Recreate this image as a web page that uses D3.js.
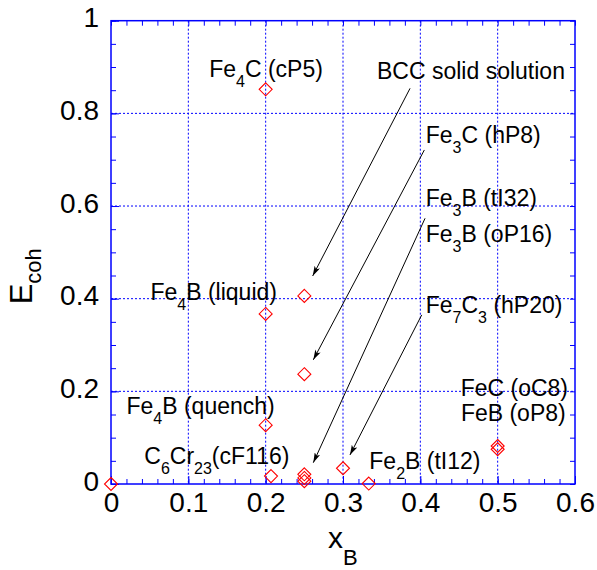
<!DOCTYPE html>
<html>
<head>
<meta charset="utf-8">
<script src="https://cdn.jsdelivr.net/npm/d3@7"></script>
<style>
  html, body { margin: 0; padding: 0; background: #fff; }
  svg { display: block; font-family: "Liberation Sans", Arial, Helvetica, sans-serif; }
</style>
</head>
<body>
<div id="chart"></div>
<script>
// ---- data ----
const xB   = [0, 0.2, 0.2, 0.2, 0.25, 0.25, 0.2069, 0.25, 0.25, 0.25, 0.3, 0.3333, 0.5, 0.5];
const Ecoh = [0, 0.852, 0.367, 0.127, 0.406, 0.237, 0.017, 0.021, 0.013, 0.006, 0.034, 0.001, 0.082, 0.075];

const xTicks = [0, 0.1, 0.2, 0.3, 0.4, 0.5, 0.6];
const xTickLabels = ["0", "0.1", "0.2", "0.3", "0.4", "0.5", "0.6"];
const yTicks = [0, 0.2, 0.4, 0.6, 0.8, 1];
const yTickLabels = ["0", "0.2", "0.4", "0.6", "0.8", "1"];

// annotation labels: segments [text, isSubscript], anchor in data units
const labelParts = [
  [["Fe",0],["4",1],["C (cP5)",0]],
  [["BCC solid solution",0]],
  [["Fe",0],["3",1],["C (hP8)",0]],
  [["Fe",0],["3",1],["B (tI32)",0]],
  [["Fe",0],["3",1],["B (oP16)",0]],
  [["Fe",0],["7",1],["C",0],["3",1],[" (hP20)",0]],
  [["FeC (oC8)",0]],
  [["FeB (oP8)",0]],
  [["Fe",0],["2",1],["B (tI12)",0]],
  [["Fe",0],["4",1],["B (liquid)",0]],
  [["Fe",0],["4",1],["B (quench)",0]],
  [["C",0],["6",1],["Cr",0],["23",1],["(cF116)",0]]
];
const labelX = [0.127, 0.344, 0.407, 0.407, 0.407, 0.407, 0.591, 0.588, 0.334, 0.051, 0.020, 0.043];
const labelY = [0.878, 0.874, 0.735, 0.601, 0.522, 0.370, 0.190, 0.136, 0.032, 0.397, 0.151, 0.043];
const labelAnchor = ["start","start","start","start","start","start","end","end","start","start","start","start"];

// arrows (data units): from -> to
const arrowX1 = [0.3867, 0.4052, 0.4061, 0.4018];
const arrowY1 = [0.854, 0.721, 0.5735, 0.365];
const arrowX2 = [0.2608, 0.2616, 0.2616, 0.3090];
const arrowY2 = [0.449, 0.268, 0.046, 0.0626];

// ---- layout ----
const W = 597, H = 570;
const L = 111, R = 575, T = 20.7, B = 484;
const blue = "#0000ff";

const x = d3.scaleLinear().domain([0, 0.6]).range([L, R]);
const y = d3.scaleLinear().domain([0, 1]).range([B, T]);

const svg = d3.select("#chart").append("svg").attr("width", W).attr("height", H);

// grid
const grid = svg.append("g").attr("stroke", blue).attr("stroke-width", 1).attr("stroke-dasharray", "2,2");
grid.selectAll("line.vx").data(xTicks.slice(1, -1)).enter().append("line")
  .attr("x1", d => x(d)).attr("x2", d => x(d)).attr("y1", T).attr("y2", B);
grid.selectAll("line.hy").data(yTicks.slice(1, -1)).enter().append("line")
  .attr("y1", d => y(d)).attr("y2", d => y(d)).attr("x1", L).attr("x2", R);

// minor tick values
const xMinor = d3.range(0, 31).map(i => i * 0.02);
const yMinor = d3.range(0, 21).map(i => i * 0.05);

function styleAxis(g) {
  g.select(".domain").remove();
  g.selectAll("line").attr("stroke", blue).attr("stroke-width", 1);
}

// minor ticks on all four sides (inward)
svg.append("g").attr("transform", `translate(0,${B})`)
  .call(d3.axisBottom(x).tickValues(xMinor).tickSize(-5).tickFormat("")).call(styleAxis);
svg.append("g").attr("transform", `translate(0,${T})`)
  .call(d3.axisTop(x).tickValues(xMinor).tickSize(-5).tickFormat("")).call(styleAxis);
svg.append("g").attr("transform", `translate(${L},0)`)
  .call(d3.axisLeft(y).tickValues(yMinor).tickSize(-5).tickFormat("")).call(styleAxis);
svg.append("g").attr("transform", `translate(${R},0)`)
  .call(d3.axisRight(y).tickValues(yMinor).tickSize(-5).tickFormat("")).call(styleAxis);

// major ticks with labels
const xAx = svg.append("g").attr("transform", `translate(0,${B})`)
  .call(d3.axisBottom(x).tickValues(xTicks).tickSize(-8).tickFormat((d, i) => xTickLabels[i]));
styleAxis(xAx);
xAx.selectAll("text").attr("y", 27.7).attr("dy", null).attr("fill", "#000")
  .attr("font-size", 28).attr("font-family", "Liberation Sans, Arial, sans-serif");

const yAx = svg.append("g").attr("transform", `translate(${L},0)`)
  .call(d3.axisLeft(y).tickValues(yTicks).tickSize(-8).tickFormat((d, i) => yTickLabels[i]));
styleAxis(yAx);
yAx.selectAll("text").attr("x", -12).attr("dy", 6).attr("fill", "#000")
  .attr("font-size", 28).attr("font-family", "Liberation Sans, Arial, sans-serif");

// frame
svg.append("rect").attr("x", L).attr("y", T).attr("width", R - L).attr("height", B - T)
  .attr("fill", "none").attr("stroke", blue).attr("stroke-width", 1.5);

// axis titles
const yt = svg.append("text").attr("transform", `translate(32,${(T + B) / 2 + 52}) rotate(-90)`)
  .attr("font-size", 31).attr("fill", "#000");
yt.append("tspan").text("E");
yt.append("tspan").attr("font-size", 22).attr("dy", 9).text("coh");

const xt = svg.append("text").attr("x", 328).attr("y", 548).attr("font-size", 30).attr("fill", "#000");
xt.append("tspan").text("x");
xt.append("tspan").attr("font-size", 22).attr("dy", 17).text("B");

// arrows
const defs = svg.append("defs");
defs.append("marker").attr("id", "ah").attr("viewBox", "0 0 10 6")
  .attr("refX", 10).attr("refY", 3).attr("markerWidth", 11).attr("markerHeight", 6)
  .attr("markerUnits", "userSpaceOnUse").attr("orient", "auto")
  .append("path").attr("d", "M0,0 L10,3 L0,6 L2.5,3 Z").attr("fill", "#000");

svg.append("g").selectAll("line").data(arrowX1).enter().append("line")
  .attr("x1", (d, i) => x(arrowX1[i])).attr("y1", (d, i) => y(arrowY1[i]))
  .attr("x2", (d, i) => x(arrowX2[i])).attr("y2", (d, i) => y(arrowY2[i]))
  .attr("stroke", "#000").attr("stroke-width", 1).attr("marker-end", "url(#ah)");

// points (diamonds)
const pts = d3.range(xB.length);
svg.append("g").selectAll("path").data(pts).enter().append("path")
  .attr("transform", i => `translate(${x(xB[i])},${y(Ecoh[i])})`)
  .attr("d", "M0,-6.5 L6.5,0 L0,6.5 L-6.5,0 Z")
  .attr("fill", "none").attr("stroke", "#ff0000").attr("stroke-width", 1.1);

// labels
const lab = svg.append("g").attr("fill", "#000");
labelParts.forEach((parts, i) => {
  const t = lab.append("text").attr("x", x(labelX[i])).attr("y", y(labelY[i]))
    .attr("font-size", 23).attr("text-anchor", labelAnchor[i]);
  let sub = false;
  parts.forEach(([s, isSub]) => {
    const ts = t.append("tspan").text(s);
    if (isSub && !sub) { ts.attr("font-size", 16).attr("dy", 10); sub = true; }
    else if (isSub) { ts.attr("font-size", 16); }
    else if (!isSub && sub) { ts.attr("dy", -10); sub = false; }
  });
});
</script>
</body>
</html>
